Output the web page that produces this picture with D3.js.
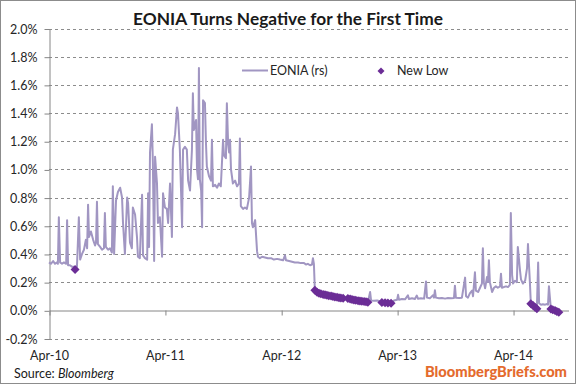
<!DOCTYPE html>
<html>
<head>
<meta charset="utf-8">
<script src="https://cdn.jsdelivr.net/npm/d3@7"></script>
<style>
  body { margin: 0; background: #fff; }
  svg { display: block; font-family: Lato, "Open Sans", sans-serif; }
  .axis text { fill: #262626; font-size: 12.5px; font-family: Lato, "Open Sans", sans-serif; }
  .axis path, .axis line { stroke: #868686; }
  .grid line { stroke: #8c8c8c; stroke-dasharray: 3,3; }
</style>
</head>
<body>
<div id="chart-area"></div>
<script>

var width = 576, height = 384;
var plot = { left: 49, right: 568, top: 28.5, bottom: 338.5 };

// Axis ticks
var yTicks = [-0.2, 0, 0.2, 0.4, 0.6, 0.8, 1.0, 1.2, 1.4, 1.6, 1.8, 2.0];
var xTickDates = ["2010-04-01", "2011-04-01", "2012-04-01", "2013-04-01", "2014-04-01"];

// EONIA fixing, %
var eoniaDates = [
  "2010-04-01","2010-04-07","2010-04-14","2010-04-20","2010-04-26","2010-04-29","2010-05-02","2010-05-06","2010-05-12","2010-05-18",
  "2010-05-25","2010-05-28","2010-05-31","2010-06-06","2010-06-12","2010-06-19","2010-06-22","2010-06-28","2010-07-04","2010-07-08",
  "2010-07-14","2010-07-20","2010-07-26","2010-07-30","2010-08-02","2010-08-05","2010-08-11","2010-08-18","2010-08-24","2010-08-27",
  "2010-08-30","2010-09-02","2010-09-09","2010-09-15","2010-09-21","2010-09-24","2010-09-27","2010-10-04","2010-10-10","2010-10-16",
  "2010-10-19","2010-10-23","2010-10-29","2010-11-04","2010-11-11","2010-11-17","2010-11-20","2010-11-26","2010-12-03","2010-12-06",
  "2010-12-12","2010-12-18","2010-12-21","2010-12-28","2011-01-03","2011-01-06","2011-01-12","2011-01-19","2011-01-22","2011-01-28",
  "2011-02-04","2011-02-07","2011-02-10","2011-02-13","2011-02-19","2011-02-22","2011-02-26","2011-03-01","2011-03-07","2011-03-10",
  "2011-03-16","2011-03-23","2011-03-26","2011-04-01","2011-04-07","2011-04-11","2011-04-17","2011-04-23","2011-04-26","2011-05-03",
  "2011-05-09","2011-05-12","2011-05-18","2011-05-25","2011-05-28","2011-06-03","2011-06-09","2011-06-13","2011-06-19","2011-06-25",
  "2011-06-28","2011-07-01","2011-07-08","2011-07-11","2011-07-14","2011-07-17","2011-07-20","2011-07-24","2011-07-27","2011-07-30",
  "2011-08-05","2011-08-08","2011-08-11","2011-08-18","2011-08-24","2011-08-27","2011-08-30","2011-09-06","2011-09-12","2011-09-18",
  "2011-09-24","2011-10-01","2011-10-04","2011-10-10","2011-10-13","2011-10-17","2011-10-20","2011-10-23","2011-10-26","2011-11-01",
  "2011-11-08","2011-11-14","2011-11-20","2011-11-23","2011-11-26","2011-12-03","2011-12-09","2011-12-15","2011-12-22","2011-12-28",
  "2011-12-31","2012-01-03","2012-01-10","2012-01-16","2012-01-19","2012-01-25","2012-02-01","2012-02-10","2012-02-19","2012-02-29",
  "2012-03-09","2012-03-19","2012-03-28","2012-04-07","2012-04-13","2012-04-16","2012-04-26","2012-05-05","2012-05-14","2012-05-24",
  "2012-06-02","2012-06-12","2012-06-18","2012-06-24","2012-07-01","2012-07-07","2012-07-10","2012-07-13","2012-07-16","2012-07-23",
  "2012-07-29","2012-08-04","2012-08-11","2012-08-17","2012-08-23","2012-08-29","2012-09-05","2012-09-11","2012-09-17","2012-09-24",
  "2012-09-30","2012-10-06","2012-10-13","2012-10-22","2012-10-28","2012-11-04","2012-11-10","2012-11-16","2012-11-22","2012-11-29",
  "2012-12-05","2012-12-11","2012-12-18","2012-12-24","2012-12-30","2013-01-06","2013-01-09","2013-01-18","2013-01-28","2013-02-06",
  "2013-02-12","2013-02-22","2013-03-03","2013-03-13","2013-03-22","2013-04-01","2013-04-04","2013-04-07","2013-04-16","2013-04-26",
  "2013-05-05","2013-05-08","2013-05-18","2013-05-27","2013-06-02","2013-06-06","2013-06-15","2013-06-25","2013-07-01","2013-07-04",
  "2013-07-13","2013-07-23","2013-07-26","2013-07-29","2013-08-01","2013-08-11","2013-08-20","2013-08-30","2013-09-08","2013-09-18",
  "2013-09-27","2013-09-30","2013-10-03","2013-10-13","2013-10-22","2013-11-01","2013-11-04","2013-11-10","2013-11-16","2013-11-23",
  "2013-11-26","2013-12-02","2013-12-05","2013-12-12","2013-12-18","2013-12-24","2013-12-27","2013-12-30","2014-01-03","2014-01-09",
  "2014-01-12","2014-01-15","2014-01-18","2014-01-25","2014-01-31","2014-02-06","2014-02-12","2014-02-19","2014-02-22","2014-02-25",
  "2014-03-03","2014-03-10","2014-03-16","2014-03-22","2014-03-25","2014-03-29","2014-04-01","2014-04-07","2014-04-13","2014-04-16",
  "2014-04-23","2014-04-26","2014-05-02","2014-05-09","2014-05-15","2014-05-18","2014-05-21","2014-05-24","2014-05-27","2014-06-03",
  "2014-06-09","2014-06-15","2014-06-19","2014-06-22","2014-06-28","2014-07-04","2014-07-11","2014-07-17","2014-07-20","2014-07-23",
  "2014-07-29","2014-08-04","2014-08-11","2014-08-17","2014-08-23"
];

var eoniaValues = [
  0.34,0.33,0.35,0.33,0.34,0.33,0.66,0.34,0.33,0.34,
  0.33,0.64,0.32,0.32,0.31,0.31,0.29,0.31,0.66,0.36,
  0.40,0.43,0.50,0.44,0.75,0.52,0.56,0.50,0.46,0.48,
  0.77,0.47,0.45,0.43,0.44,0.69,0.45,0.43,0.44,0.41,
  0.88,0.40,0.78,0.84,0.87,0.80,0.62,0.40,0.80,0.76,
  0.48,0.44,0.73,0.68,0.52,0.38,0.37,0.82,0.39,0.37,
  0.36,0.83,0.45,1.12,1.32,1.05,0.35,1.09,0.90,0.62,
  0.66,0.38,0.83,0.73,0.72,0.62,0.90,0.52,1.14,1.25,
  1.44,1.40,1.14,0.59,1.14,1.16,1.14,0.92,0.85,1.14,
  1.54,1.28,1.35,1.00,0.93,1.72,0.93,0.85,0.59,1.49,
  1.47,1.20,1.02,0.95,0.92,1.21,0.88,0.89,0.87,0.90,
  0.88,1.21,1.10,1.08,1.47,1.18,1.12,1.21,1.00,0.90,
  0.92,0.88,0.90,1.22,0.74,0.72,0.73,0.72,0.80,1.02,
  0.62,0.59,0.64,0.42,0.38,0.37,0.38,0.375,0.37,0.37,
  0.36,0.365,0.36,0.355,0.39,0.355,0.35,0.345,0.34,0.34,
  0.335,0.335,0.325,0.33,0.32,0.325,0.37,0.33,0.142,0.128,
  0.122,0.117,0.113,0.110,0.107,0.104,0.101,0.098,0.095,0.092,
  0.089,0.087,0.085,0.088,0.083,0.080,0.077,0.074,0.071,0.068,
  0.066,0.064,0.062,0.060,0.058,0.13,0.07,0.068,0.07,0.065,
  0.056,0.054,0.052,0.050,0.07,0.075,0.11,0.075,0.08,0.078,
  0.107,0.08,0.085,0.08,0.105,0.082,0.085,0.083,0.205,0.09,
  0.085,0.107,0.09,0.142,0.09,0.085,0.088,0.083,0.087,0.085,
  0.088,0.175,0.09,0.088,0.09,0.232,0.10,0.09,0.12,0.14,
  0.10,0.27,0.14,0.13,0.16,0.19,0.44,0.20,0.156,0.237,
  0.20,0.356,0.20,0.13,0.16,0.17,0.16,0.17,0.26,0.16,
  0.165,0.17,0.165,0.18,0.69,0.25,0.19,0.21,0.20,0.45,
  0.28,0.22,0.19,0.21,0.30,0.47,0.33,0.20,0.047,0.035,
  0.022,0.012,0.34,0.05,0.04,0.043,0.04,0.045,0.04,0.17,
  0.010,0.004,-0.002,-0.008,-0.014
];

// New lows (diamonds)
var newLowDates = [
  "2010-06-22",
  "2012-07-16","2012-07-23","2012-07-29","2012-08-04","2012-08-11","2012-08-17","2012-08-23","2012-08-29",
  "2012-09-05","2012-09-11","2012-09-17","2012-09-24","2012-09-30","2012-10-06","2012-10-13",
  "2012-10-28","2012-11-04","2012-11-10","2012-11-16","2012-11-22","2012-11-29","2012-12-05","2012-12-11",
  "2012-12-18","2012-12-24","2012-12-30",
  "2013-02-12","2013-02-22","2013-03-03","2013-03-13",
  "2014-05-27","2014-06-03","2014-06-09","2014-06-15",
  "2014-07-29","2014-08-04","2014-08-11","2014-08-17","2014-08-23"
];

var newLowValues = [
  0.29,
  0.142,0.128,0.122,0.117,0.113,0.110,0.107,0.104,
  0.101,0.098,0.095,0.092,0.089,0.087,0.085,
  0.083,0.080,0.077,0.074,0.071,0.068,0.066,0.064,
  0.062,0.060,0.058,
  0.056,0.054,0.052,0.050,
  0.047,0.035,0.022,0.012,
  0.010,0.004,-0.002,-0.008,-0.014
];

var lineColor = "#a196c2",
    lowColor = "#6b2d96";

var parseDate = d3.timeParse("%Y-%m-%d");

var eonia = eoniaDates.map(function(d, i){ return { date: parseDate(d), value: eoniaValues[i] }; });
var lows = newLowDates.map(function(d, i){ return { date: parseDate(d), value: newLowValues[i] }; });

var svg = d3.select("#chart-area").append("svg")
    .attr("width", width)
    .attr("height", height);

// Frame
svg.append("rect")
    .attr("x", 0.5).attr("y", 0.5)
    .attr("width", width - 1).attr("height", height - 1)
    .attr("fill", "#fff")
    .attr("stroke", "#8c8c8c");

// Scales
var x = d3.scaleTime()
    .domain([parseDate("2010-04-01"), parseDate("2014-09-21")])
    .range([plot.left, plot.right]);

var y = d3.scaleLinear()
    .domain([-0.2, 2.0])
    .range([plot.bottom, plot.top]);

function crisp(v) { return Math.round(v) + 0.5; }

// Dashed gridlines
svg.append("g")
    .attr("class", "grid")
    .selectAll("line")
    .data(yTicks.filter(function(d){ return d !== 0; }))
    .enter().append("line")
    .attr("x1", plot.left)
    .attr("x2", plot.right)
    .attr("y1", function(d){ return crisp(y(d)); })
    .attr("y2", function(d){ return crisp(y(d)); });

// Y axis
svg.append("g")
    .attr("class", "y axis")
    .attr("transform", "translate(" + (plot.left + 0.5) + ",0.5)")
    .call(d3.axisLeft(y)
        .tickValues(yTicks)
        .tickSize(5)
        .tickSizeOuter(0)
        .tickPadding(7)
        .tickFormat(function(d){ return d.toFixed(1) + "%"; }));

// X axis on the zero line, ticks only
svg.append("g")
    .attr("class", "x axis")
    .attr("transform", "translate(0.5," + crisp(y(0)) + ")")
    .call(d3.axisBottom(x)
        .tickValues(xTickDates.map(parseDate))
        .tickSize(5)
        .tickSizeOuter(0)
        .tickFormat(""));

// X labels sit low, under the -0.2% line
var xLabels = svg.append("g")
    .attr("class", "x axis labels")
    .attr("transform", "translate(0,351)")
    .call(d3.axisBottom(x)
        .tickValues(xTickDates.map(parseDate))
        .tickSize(0)
        .tickPadding(0)
        .tickFormat(d3.timeFormat("%b-%y")));
xLabels.select(".domain").remove();

// EONIA line
var line = d3.line()
    .x(function(d){ return x(d.date); })
    .y(function(d){ return y(d.value); });

svg.append("path")
    .datum(eonia)
    .attr("fill", "none")
    .attr("stroke", lineColor)
    .attr("stroke-width", 2)
    .attr("stroke-linejoin", "round")
    .attr("d", line);

// New low diamonds
var diamond = "M0,-4.5L4.5,0L0,4.5L-4.5,0Z";

svg.append("g")
    .selectAll("path")
    .data(lows)
    .enter().append("path")
    .attr("d", diamond)
    .attr("fill", lowColor)
    .attr("transform", function(d){ return "translate(" + x(d.date) + "," + y(d.value) + ")"; });

// Title
var title = svg.append("text")
    .attr("x", 288)
    .attr("y", 25)
    .attr("text-anchor", "middle")
    .attr("font-size", "16px")
    .attr("font-weight", "bold")
    .attr("fill", "#1a1a1a")
    .text("EONIA Turns Negative for the First Time");
var tw = title.node().getComputedTextLength();
title.attr("font-size", (16 * 310 / tw).toFixed(2) + "px");

// Legend
var legend = svg.append("g").attr("font-size", "12.5px").attr("fill", "#262626");

legend.append("line")
    .attr("x1", 242).attr("x2", 268)
    .attr("y1", 70.5).attr("y2", 70.5)
    .attr("stroke", lineColor)
    .attr("stroke-width", 2);

legend.append("text")
    .attr("x", 270)
    .attr("y", 75)
    .text("EONIA (rs)");

legend.append("path")
    .attr("d", "M0,-3.5L3.5,0L0,3.5L-3.5,0Z")
    .attr("fill", lowColor)
    .attr("transform", "translate(381,71)");

legend.append("text")
    .attr("x", 397)
    .attr("y", 75)
    .text("New Low");

// Source
var source = svg.append("text")
    .attr("x", 14)
    .attr("y", 378)
    .attr("font-size", "12.5px")
    .attr("fill", "#1a1a1a");
source.append("tspan").text("Source: ");
source.append("tspan").attr("font-style", "italic").text("Bloomberg");

// Branding
var brand = svg.append("text")
    .attr("x", 567)
    .attr("y", 377)
    .attr("text-anchor", "end")
    .attr("font-size", "14px")
    .attr("font-weight", "900")
    .attr("fill", "#e46b2d")
    .text("BloombergBriefs.com");
var bw = brand.node().getComputedTextLength();
brand.attr("font-size", (14 * 142 / bw).toFixed(2) + "px");

</script>
</body>
</html>
